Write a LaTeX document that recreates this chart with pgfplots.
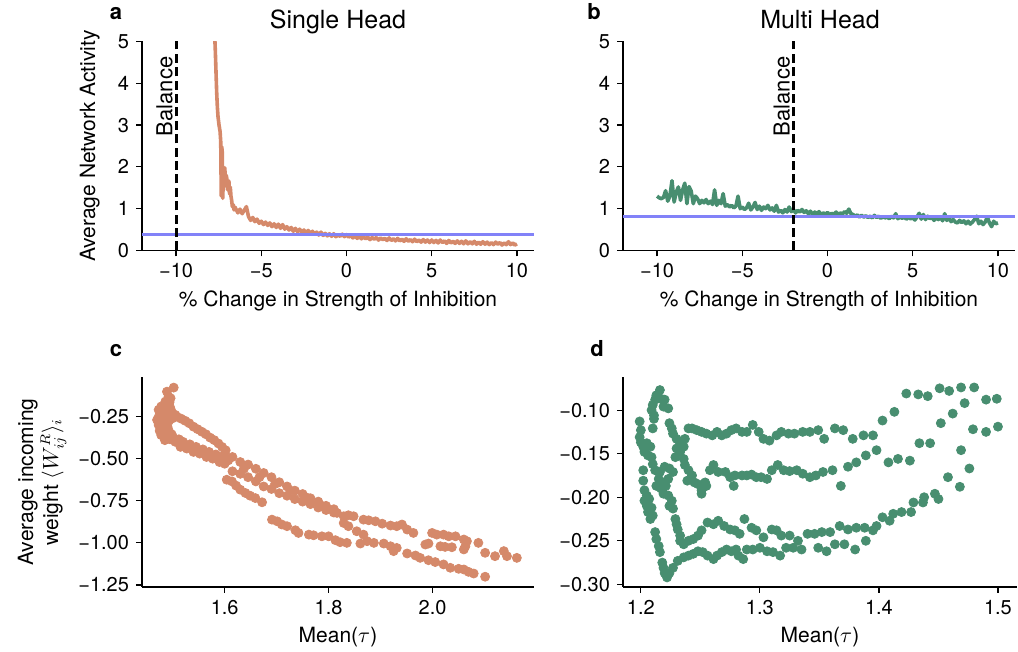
\documentclass[border=0pt]{standalone}
\usepackage{fontspec}
\setmainfont{TeX Gyre Heros}
\usepackage{pgfplots}
\pgfplotsset{compat=1.18}

\definecolor{sal}{RGB}{213,137,106}
\definecolor{grn}{RGB}{72,142,112}
\definecolor{refblue}{RGB}{130,130,248}

\newcommand\tickfont{\fontsize{10}{12}\selectfont}
\newcommand\labfont{\fontsize{10.5}{12.5}\selectfont}
\newcommand\titlefont{\fontsize{12.5}{14}\selectfont}
\newcommand\letterfont{\fontsize{11}{13}\selectfont\bfseries}

\pgfplotsset{
  panel/.style={
    scale only axis, anchor=south west,
    axis x line*=bottom, axis y line*=left,
    axis line style={-, line width=0.6pt, black},
    tick style={line width=0.6pt, black},
    tick align=outside, major tick length=3pt,
    tick label style={font=\tickfont},
    label style={font=\labfont},
    /pgf/number format/assume math mode=true,
    xlabel style={at={(axis description cs:0.5,-0.24)}, anchor=center},
  },
}

\begin{document}
\begin{tikzpicture}
\path[use as bounding box] (0,0) rectangle (509pt,326pt);

% ---- a: single head
\begin{axis}[panel, at={(71pt,200.75pt)}, width=196pt, height=104.5pt,
  xmin=-12, xmax=11, ymin=0, ymax=5,
  xtick={-10,-5,0,5,10}, xticklabels={−10,−5,0,5,10},
  ytick={0,1,2,3,4,5},
  ylabel={Average Network Activity},
  ylabel style={at={(axis description cs:-0.133,0.5)}, anchor=center},
  xlabel={\% Change in Strength of Inhibition}]
\addplot[sal, line width=1.8pt, line join=round] table {
-7.80 5.80
-7.74 5.20
-7.70 4.80
-7.66 4.30
-7.62 3.80
-7.58 3.45
-7.54 3.20
-7.48 3.00
-7.42 2.85
-7.38 2.60
-7.35 1.30
-7.32 2.48
-7.29 2.35
-7.26 1.25
-7.22 1.95
-7.18 1.70
-7.14 1.98
-7.10 1.55
-7.06 1.80
-7.02 1.72
-6.98 1.45
-6.94 1.62
-6.90 1.66
-6.86 1.35
-6.82 1.52
-6.78 1.30
-6.74 1.20
-6.70 1.05
-6.65 1.10
-6.60 0.97
-6.55 1.04
-6.500 1.00
-6.375 0.90
-6.250 0.99
-6.125 0.88
-6.000 0.96
-5.875 1.05
-5.750 0.81
-5.625 0.72
-5.500 0.79
-5.375 0.69
-5.250 0.75
-5.125 0.65
-5.000 0.70
-4.875 0.62
-4.750 0.68
-4.625 0.60
-4.500 0.66
-4.375 0.57
-4.250 0.64
-4.125 0.55
-4.000 0.63
-3.875 0.53
-3.750 0.62
-3.625 0.51
-3.500 0.57
-3.375 0.49
-3.250 0.55
-3.125 0.46
-3.000 0.53
-2.875 0.45
-2.750 0.51
-2.625 0.43
-2.500 0.49
-2.375 0.41
-2.250 0.48
-2.125 0.40
-2.000 0.46
-1.875 0.39
-1.750 0.44
-1.625 0.37
-1.500 0.44
-1.375 0.36
-1.250 0.41
-1.125 0.35
-1.000 0.40
-0.875 0.34
-0.750 0.40
-0.625 0.33
-0.500 0.37
-0.375 0.34
-0.250 0.39
-0.125 0.33
0.000 0.38
0.125 0.32
0.250 0.36
0.375 0.30
0.500 0.35
0.625 0.29
0.750 0.34
0.875 0.28
1.000 0.33
1.125 0.28
1.250 0.32
1.375 0.26
1.500 0.31
1.625 0.27
1.750 0.31
1.875 0.25
2.000 0.30
2.125 0.26
2.250 0.29
2.375 0.24
2.500 0.30
2.625 0.24
2.750 0.28
2.875 0.23
3.000 0.29
3.125 0.23
3.250 0.27
3.375 0.22
3.500 0.28
3.625 0.22
3.750 0.26
3.875 0.21
4.000 0.27
4.125 0.21
4.250 0.25
4.375 0.20
4.500 0.26
4.625 0.20
4.750 0.25
4.875 0.19
5.000 0.25
5.125 0.19
5.250 0.24
5.375 0.18
5.500 0.25
5.625 0.19
5.750 0.23
5.875 0.17
6.000 0.24
6.125 0.18
6.250 0.22
6.375 0.17
6.500 0.23
6.625 0.17
6.750 0.22
6.875 0.16
7.000 0.23
7.125 0.16
7.250 0.21
7.375 0.16
7.500 0.22
7.625 0.15
7.750 0.20
7.875 0.15
8.000 0.21
8.125 0.15
8.250 0.20
8.375 0.14
8.500 0.19
8.625 0.14
8.750 0.20
8.875 0.15
9.000 0.19
9.125 0.13
9.250 0.18
9.375 0.14
9.500 0.21
9.625 0.14
9.750 0.18
9.875 0.13
10.000 0.16
};
\addplot[refblue, line width=1.3pt] coordinates {(-12,0.38) (11,0.38)};
\addplot[black, line width=1.5pt, dash pattern=on 4.5pt off 2.2pt] coordinates {(-10,0) (-10,5)};
\node[rotate=90, anchor=south east, font=\fontsize{11}{13}\selectfont, inner sep=1.5pt] at (axis cs:-10,4.72) {Balance};
\end{axis}

% ---- b: multi head
\begin{axis}[panel, at={(311.5pt,200.75pt)}, width=196pt, height=104.5pt,
  xmin=-12, xmax=11, ymin=0, ymax=5,
  xtick={-10,-5,0,5,10}, xticklabels={−10,−5,0,5,10},
  ytick={0,1,2,3,4,5},
  xlabel={\% Change in Strength of Inhibition}]
\addplot[grn, line width=1.8pt, line join=round] table {
-10.000 1.30
-9.875 1.26
-9.750 1.24
-9.625 1.27
-9.500 1.43
-9.375 1.18
-9.250 1.30
-9.125 1.67
-9.000 1.16
-8.875 1.40
-8.750 1.52
-8.625 1.20
-8.500 1.45
-8.375 1.61
-8.250 1.12
-8.125 1.53
-8.000 1.42
-7.875 1.12
-7.750 1.30
-7.625 1.24
-7.500 1.12
-7.375 1.20
-7.250 1.14
-7.125 1.22
-7.000 1.12
-6.875 1.18
-6.750 1.10
-6.625 1.45
-6.500 1.08
-6.375 1.20
-6.250 1.12
-6.125 1.36
-6.000 1.06
-5.875 1.10
-5.750 1.04
-5.625 1.08
-5.500 1.02
-5.375 1.06
-5.250 1.30
-5.125 1.00
-5.000 1.04
-4.875 0.98
-4.750 1.02
-4.625 1.13
-4.500 0.97
-4.375 1.04
-4.250 1.15
-4.125 0.98
-4.000 1.06
-3.875 0.96
-3.750 1.04
-3.625 1.00
-3.500 1.08
-3.375 0.97
-3.250 1.02
-3.125 0.94
-3.000 1.08
-2.875 0.92
-2.750 0.96
-2.625 0.90
-2.500 0.98
-2.375 0.92
-2.250 1.04
-2.125 0.93
-2.000 0.98
-1.875 0.90
-1.750 0.96
-1.625 0.92
-1.500 0.98
-1.375 0.91
-1.250 0.95
-1.125 0.88
-1.000 0.94
-0.875 0.86
-0.750 0.92
-0.625 0.87
-0.500 0.93
-0.375 0.85
-0.250 0.90
-0.125 0.87
0.000 0.91
0.125 0.85
0.250 0.89
0.375 0.86
0.500 0.92
0.625 0.85
0.750 0.90
0.875 0.87
1.000 0.93
1.125 0.89
1.250 0.99
1.375 0.88
1.500 0.86
1.625 0.82
1.750 0.85
1.875 0.80
2.000 0.84
2.125 0.80
2.250 0.83
2.375 0.79
2.500 0.82
2.625 0.78
2.750 0.84
2.875 0.79
3.000 0.82
3.125 0.77
3.250 0.81
3.375 0.78
3.500 0.80
3.625 0.76
3.750 0.82
3.875 0.78
4.000 0.88
4.125 0.76
4.250 0.80
4.375 0.77
4.500 0.80
4.625 0.75
4.750 0.79
4.875 0.76
5.000 0.78
5.125 0.73
5.250 0.80
5.375 0.89
5.500 0.75
5.625 0.86
5.750 0.74
5.875 0.82
6.000 0.76
6.125 0.80
6.250 0.72
6.375 0.79
6.500 0.74
6.625 0.80
6.750 0.71
6.875 0.88
7.000 0.72
7.125 0.78
7.250 0.69
7.375 0.74
7.500 0.68
7.625 0.66
7.750 0.72
7.875 0.67
8.000 0.71
8.125 0.64
8.250 0.70
8.375 0.63
8.500 0.68
8.625 0.74
8.750 0.82
8.875 0.64
9.000 0.70
9.125 0.62
9.250 0.68
9.375 0.80
9.500 0.66
9.625 0.57
9.750 0.70
9.875 0.64
10.000 0.66
};
\addplot[refblue, line width=1.3pt] coordinates {(-12,0.82) (11,0.82)};
\addplot[black, line width=1.5pt, dash pattern=on 4.5pt off 2.2pt] coordinates {(-2,0) (-2,5)};
\node[rotate=90, anchor=south east, font=\fontsize{11}{13}\selectfont, inner sep=1.5pt] at (axis cs:-2,4.72) {Balance};
\end{axis}

% ---- c: single head weights
\begin{axis}[panel, at={(71pt,32.5pt)}, width=196pt, height=105pt,
  xmin=1.441, xmax=2.195, ymin=-1.262, ymax=-0.015,
  xtick={1.6,1.8,2.0},
  xticklabel style={/pgf/number format/fixed, /pgf/number format/fixed zerofill, /pgf/number format/precision=1},
  ytick={-1.25,-1,-0.75,-0.5,-0.25},
  yticklabels={−1.25,−1.00,−0.75,−0.50,−0.25},
  ylabel={Average incoming\\weight $\langle W^{R}_{ij}\rangle_{i}$},
  ylabel style={align=center, at={(axis description cs:-0.255,0.5)}, anchor=center},
  xlabel={Mean($\tau$)}]
\addplot[only marks, mark=*, mark size=2.25pt, color=sal] table {
1.502 -0.078
1.489 -0.102
1.492 -0.132
1.496 -0.141
1.486 -0.161
1.494 -0.165
1.478 -0.190
1.485 -0.200
1.495 -0.195
1.473 -0.210
1.482 -0.225
1.490 -0.230
1.498 -0.220
1.474 -0.245
1.481 -0.260
1.489 -0.255
1.470 -0.270
1.476 -0.280
1.485 -0.290
1.493 -0.275
1.500 -0.260
1.505 -0.240
1.473 -0.300
1.480 -0.315
1.490 -0.310
1.475 -0.335
1.484 -0.345
1.492 -0.330
1.478 -0.360
1.488 -0.370
1.498 -0.355
1.485 -0.390
1.495 -0.385
1.508 -0.250
1.516 -0.262
1.524 -0.275
1.532 -0.290
1.540 -0.310
1.548 -0.325
1.556 -0.340
1.564 -0.355
1.572 -0.375
1.580 -0.390
1.588 -0.410
1.595 -0.430
1.602 -0.450
1.500 -0.370
1.505 -0.400
1.512 -0.385
1.515 -0.430
1.520 -0.400
1.527 -0.440
1.533 -0.415
1.540 -0.460
1.545 -0.430
1.552 -0.470
1.558 -0.445
1.565 -0.490
1.570 -0.460
1.577 -0.500
1.583 -0.475
1.590 -0.520
1.595 -0.490
1.600 -0.530
1.600 -0.470
1.615 -0.490
1.630 -0.520
1.645 -0.535
1.660 -0.560
1.675 -0.585
1.690 -0.610
1.705 -0.640
1.720 -0.665
1.735 -0.690
1.750 -0.710
1.765 -0.735
1.780 -0.755
1.795 -0.780
1.810 -0.800
1.615 -0.575
1.630 -0.590
1.645 -0.610
1.660 -0.635
1.675 -0.665
1.690 -0.680
1.705 -0.705
1.720 -0.720
1.735 -0.740
1.750 -0.755
1.765 -0.770
1.780 -0.790
1.795 -0.805
1.810 -0.820
1.607 -0.510
1.637 -0.560
1.667 -0.610
1.697 -0.650
1.727 -0.690
1.757 -0.730
1.787 -0.780
1.604 -0.625
1.614 -0.635
1.622 -0.660
1.630 -0.684
1.640 -0.704
1.649 -0.720
1.659 -0.734
1.672 -0.759
1.816 -0.822
1.829 -0.842
1.838 -0.836
1.848 -0.842
1.867 -0.862
1.877 -0.866
1.890 -0.872
1.903 -0.886
1.919 -0.897
1.931 -0.901
1.941 -0.891
1.951 -0.921
1.963 -0.941
1.999 -0.941
2.008 -0.951
2.021 -0.951
2.031 -0.961
2.044 -0.961
2.060 -0.980
2.066 -0.990
2.088 -1.000
2.101 -1.059
2.120 -1.079
2.137 -1.049
2.143 -1.079
2.162 -1.089
1.986 -1.010
1.992 -1.004
2.015 -1.020
2.024 -1.024
2.037 -1.026
2.060 -1.039
2.063 -1.020
1.829 -0.882
1.838 -0.901
1.854 -0.931
1.867 -0.951
1.691 -0.862
1.701 -0.872
1.710 -0.891
1.720 -0.901
1.736 -0.925
1.742 -0.941
1.762 -0.951
1.771 -0.955
1.787 -0.961
1.800 -0.961
1.813 -0.984
1.822 -0.996
1.835 -1.000
1.861 -1.004
1.874 -0.990
1.887 -1.000
1.906 -1.004
1.919 -1.020
1.925 -1.049
1.931 -1.030
1.951 -1.063
1.967 -1.075
1.976 -1.089
1.992 -1.103
2.005 -1.114
2.021 -1.128
2.034 -1.148
2.050 -1.154
2.060 -1.158
2.069 -1.172
2.079 -1.182
2.101 -1.201
};
\end{axis}

% ---- d: multi head weights
\begin{axis}[panel, at={(311.5pt,32.5pt)}, width=197pt, height=105pt,
  xmin=1.185, xmax=1.516, ymin=-0.303, ymax=-0.062,
  xtick={1.2,1.3,1.4,1.5},
  xticklabel style={/pgf/number format/fixed, /pgf/number format/fixed zerofill, /pgf/number format/precision=1},
  ytick={-0.3,-0.25,-0.2,-0.15,-0.1},
  yticklabels={−0.30,−0.25,−0.20,−0.15,−0.10},
  xlabel={Mean($\tau$)}]
\addplot[only marks, mark=*, mark size=2.25pt, color=grn] table {
1.216 -0.077
1.213 -0.083
1.212 -0.088
1.217 -0.087
1.220 -0.088
1.210 -0.094
1.219 -0.096
1.209 -0.100
1.223 -0.098
1.211 -0.106
1.211 -0.110
1.210 -0.121
1.199 -0.113
1.200 -0.123
1.199 -0.131
1.200 -0.137
1.202 -0.142
1.205 -0.138
1.208 -0.142
1.203 -0.148
1.206 -0.152
1.209 -0.154
1.210 -0.162
1.202 -0.169
1.212 -0.169
1.202 -0.181
1.203 -0.192
1.205 -0.198
1.203 -0.204
1.207 -0.202
1.205 -0.210
1.209 -0.212
1.206 -0.217
1.210 -0.221
1.208 -0.225
1.212 -0.240
1.213 -0.248
1.215 -0.256
1.216 -0.263
1.218 -0.275
1.219 -0.281
1.220 -0.287
1.222 -0.292
1.224 -0.287
1.227 -0.281
1.231 -0.273
1.236 -0.269
1.240 -0.267
1.244 -0.265
1.248 -0.262
1.252 -0.263
1.256 -0.267
1.261 -0.271
1.264 -0.267
1.268 -0.263
1.272 -0.260
1.276 -0.262
1.280 -0.260
1.216 -0.171
1.220 -0.165
1.224 -0.167
1.227 -0.171
1.215 -0.179
1.219 -0.183
1.223 -0.179
1.213 -0.187
1.217 -0.190
1.221 -0.187
1.219 -0.196
1.223 -0.198
1.226 -0.204
1.224 -0.210
1.227 -0.213
1.229 -0.225
1.230 -0.231
1.231 -0.237
1.233 -0.244
1.233 -0.250
1.236 -0.254
1.240 -0.250
1.244 -0.248
1.248 -0.244
1.251 -0.238
1.256 -0.229
1.261 -0.231
1.265 -0.227
1.270 -0.233
1.275 -0.237
1.279 -0.238
1.224 -0.115
1.226 -0.121
1.227 -0.127
1.230 -0.133
1.233 -0.138
1.230 -0.144
1.233 -0.148
1.229 -0.154
1.236 -0.142
1.237 -0.133
1.240 -0.121
1.243 -0.121
1.247 -0.123
1.251 -0.125
1.255 -0.127
1.260 -0.129
1.264 -0.125
1.268 -0.129
1.272 -0.127
1.276 -0.123
1.280 -0.121
1.236 -0.156
1.237 -0.163
1.240 -0.169
1.243 -0.175
1.239 -0.181
1.245 -0.183
1.248 -0.185
1.251 -0.192
1.254 -0.183
1.251 -0.196
1.255 -0.187
1.258 -0.169
1.261 -0.163
1.265 -0.171
1.271 -0.171
1.275 -0.177
1.279 -0.175
1.285 -0.125
1.289 -0.125
1.294 -0.117
1.299 -0.125
1.303 -0.133
1.308 -0.135
1.314 -0.129
1.318 -0.125
1.324 -0.127
1.329 -0.127
1.336 -0.125
1.342 -0.125
1.349 -0.123
1.354 -0.133
1.363 -0.121
1.370 -0.123
1.378 -0.133
1.387 -0.129
1.395 -0.129
1.403 -0.112
1.413 -0.102
1.423 -0.081
1.433 -0.082
1.441 -0.084
1.451 -0.075
1.459 -0.078
1.469 -0.074
1.480 -0.074
1.490 -0.088
1.499 -0.087
1.278 -0.187
1.285 -0.175
1.289 -0.175
1.293 -0.174
1.297 -0.177
1.301 -0.177
1.306 -0.179
1.310 -0.169
1.315 -0.163
1.320 -0.169
1.325 -0.170
1.331 -0.169
1.336 -0.173
1.342 -0.177
1.347 -0.175
1.353 -0.171
1.361 -0.169
1.368 -0.187
1.374 -0.165
1.381 -0.160
1.389 -0.152
1.398 -0.146
1.408 -0.160
1.416 -0.156
1.426 -0.158
1.434 -0.138
1.443 -0.138
1.452 -0.115
1.462 -0.104
1.472 -0.092
1.283 -0.242
1.287 -0.225
1.293 -0.235
1.297 -0.238
1.303 -0.246
1.310 -0.237
1.314 -0.238
1.318 -0.244
1.325 -0.244
1.332 -0.250
1.340 -0.242
1.346 -0.242
1.352 -0.240
1.359 -0.240
1.367 -0.233
1.374 -0.237
1.381 -0.235
1.388 -0.235
1.395 -0.238
1.398 -0.233
1.403 -0.223
1.409 -0.227
1.412 -0.219
1.419 -0.217
1.427 -0.217
1.429 -0.206
1.437 -0.206
1.438 -0.200
1.447 -0.196
1.450 -0.202
1.458 -0.177
1.468 -0.188
1.476 -0.167
1.469 -0.146
1.479 -0.122
1.490 -0.125
1.500 -0.119
1.282 -0.267
1.286 -0.271
1.289 -0.260
1.294 -0.260
1.300 -0.258
1.306 -0.262
1.311 -0.263
1.317 -0.267
1.322 -0.258
1.328 -0.258
1.335 -0.260
1.349 -0.258
1.356 -0.262
1.363 -0.254
1.371 -0.254
1.380 -0.260
1.389 -0.250
};
\end{axis}

\node[font=\titlefont, anchor=base] at (169pt,311.5pt) {Single Head};
\node[font=\titlefont, anchor=base] at (410pt,311.5pt) {Multi Head};
\node[font=\letterfont, anchor=base] at (58pt,316pt) {a};
\node[font=\letterfont, anchor=base] at (297pt,316pt) {b};
\node[font=\letterfont, anchor=base] at (58pt,147.5pt) {c};
\node[font=\letterfont, anchor=base] at (298.5pt,147.5pt) {d};
\end{tikzpicture}
\end{document}
